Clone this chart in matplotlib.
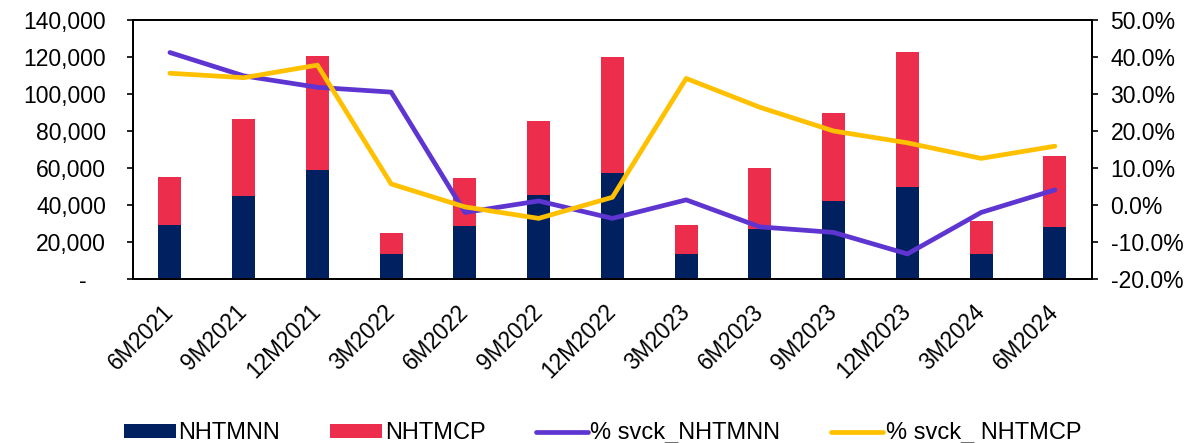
import numpy as np
import matplotlib
matplotlib.use("Agg")
import matplotlib.pyplot as plt
from matplotlib.ticker import FuncFormatter

plt.rcParams['font.family'] = ['Liberation Sans', 'DejaVu Sans']

periods = ['6M2021', '9M2021', '12M2021', '3M2022', '6M2022', '9M2022', '12M2022',
           '3M2023', '6M2023', '9M2023', '12M2023', '3M2024', '6M2024']
nhtmnn = [29200, 44900, 58900, 13500, 28700, 45400, 57300, 13500, 27200, 42000, 49600, 13500, 28300]
nhtmcp = [26100, 41400, 61500, 11500, 25900, 39800, 62500, 15700, 32600, 47900, 73300, 17700, 38200]
svck_nn = [41.2, 34.9, 31.8, 30.5, -2.0, 1.1, -3.6, 1.4, -5.9, -7.4, -13.2, -2.0, 4.1]
svck_cp = [35.6, 34.4, 37.8, 5.7, -0.5, -3.6, 2.1, 34.2, 26.4, 20.0, 16.8, 12.6, 15.9]

c_nn = '#002060'
c_cp = '#EC2D4B'
c_lnn = '#5E35D0'
c_lcp = '#FFC000'

fig = plt.figure(figsize=(11.88, 4.43), dpi=100)
ax = fig.add_axes([0.112, 0.370, 0.807, 0.585])
x = np.arange(len(periods))

b1 = ax.bar(x, nhtmnn, width=0.31, color=c_nn, label='NHTMNN')
b2 = ax.bar(x, nhtmcp, width=0.31, bottom=nhtmnn, color=c_cp, label='NHTMCP')
ax.set_ylim(0, 140000)
ax.set_yticks(np.arange(0, 140001, 20000))
ax.yaxis.set_major_formatter(FuncFormatter(lambda v, p: '-   ' if v == 0 else f'{v:,.0f}'))
ax.set_xlim(-0.5, len(periods) - 0.5)
ax.set_xticks(x)
ax.set_xticklabels(periods, rotation=45, ha='right', va='center', rotation_mode='anchor')
ax.tick_params(axis='x', length=0, labelsize=16.3, pad=21)
ax.tick_params(axis='y', labelsize=16.5, length=4.5, width=1.2, direction='out', pad=15)

ax2 = ax.twinx()
l1, = ax2.plot(x, svck_nn, color=c_lnn, lw=3.4, solid_capstyle='round', label='% svck_NHTMNN')
l2, = ax2.plot(x, svck_cp, color=c_lcp, lw=3.4, solid_capstyle='round', label='% svck_ NHTMCP')
ax2.set_ylim(-20, 50)
ax2.set_yticks(np.arange(-20, 51, 10))
ax2.yaxis.set_major_formatter(FuncFormatter(lambda v, p: f'{v:.1f}%'))
ax2.tick_params(axis='y', labelsize=16.5, length=4.5, width=1.2, direction='out', pad=9)

for a in (ax, ax2):
    for s in a.spines.values():
        s.set_linewidth(1.3)
        s.set_color('black')

fig.legend([b1, b2, l1, l2], ['NHTMNN', 'NHTMCP', '% svck_NHTMNN', '% svck_ NHTMCP'],
           loc='center', bbox_to_anchor=(0.507, 0.022), ncol=4, frameon=False,
           fontsize=17, handlelength=2.2, handleheight=0.55, handletextpad=0.1,
           columnspacing=2.15)

fig.savefig('out.png', dpi=100)
